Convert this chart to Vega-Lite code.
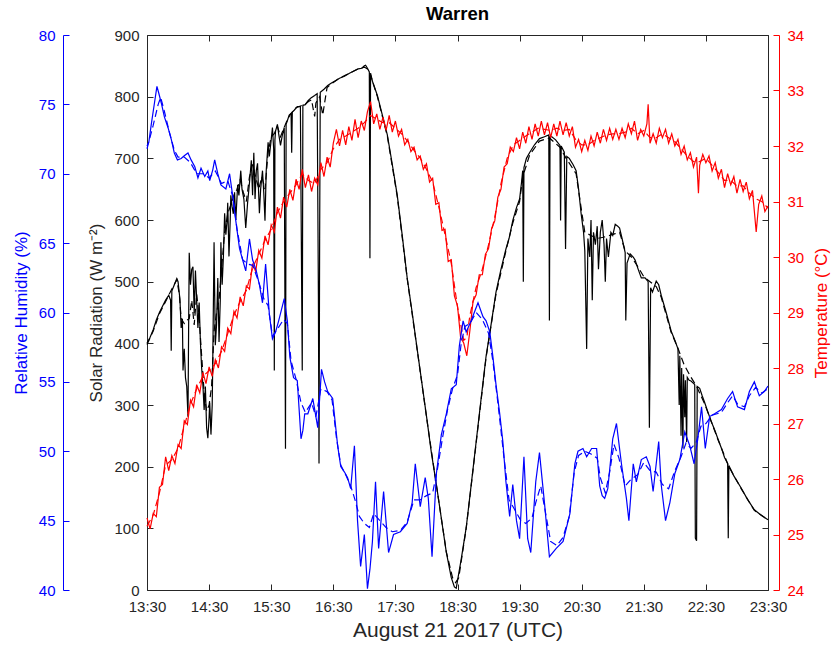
{
"$schema": "https://vega.github.io/schema/vega-lite/v6.json",
"width": 621, "height": 555,
"autosize": {"type": "none"},
"padding": {"left": 147, "top": 35, "right": 63, "bottom": 57},
"background": "white",
"title": {"text": "Warren", "fontSize": 18.5, "fontWeight": "bold", "font": "Liberation Sans", "color": "#000000", "anchor": "middle", "offset": 5},
"config": {"view": {"stroke": null}, "font": "Liberation Sans", "axis": {"labelFont": "Liberation Sans", "titleFont": "Liberation Sans", "grid": false, "labelFlush": false, "labelOverlap": false, "titleFontWeight": "normal", "domainWidth": 1, "tickWidth": 1}},
"datasets": {
"srad": [
{"h":13.5,"v":400},{"h":13.55,"v":410},{"h":13.6,"v":422},{"h":13.65,"v":438},{"h":13.7,"v":450},{"h":13.75,"v":460},{"h":13.8,"v":470},{"h":13.85,"v":478},{"h":13.88,"v":470},{"h":13.89,"v":388},{"h":13.9,"v":485},{"h":13.94,"v":495},{"h":13.98,"v":505},{"h":14.0,"v":500},{"h":14.03,"v":472},{"h":14.05,"v":425},{"h":14.07,"v":440},{"h":14.08,"v":356},{"h":14.1,"v":391},{"h":14.12,"v":344},{"h":14.14,"v":330},{"h":14.16,"v":281},{"h":14.17,"v":420},{"h":14.18,"v":547},{"h":14.2,"v":495},{"h":14.22,"v":520},{"h":14.24,"v":524},{"h":14.26,"v":449},{"h":14.28,"v":518},{"h":14.3,"v":470},{"h":14.32,"v":425},{"h":14.34,"v":466},{"h":14.36,"v":402},{"h":14.38,"v":360},{"h":14.4,"v":333},{"h":14.42,"v":292},{"h":14.44,"v":330},{"h":14.46,"v":263},{"h":14.48,"v":246},{"h":14.5,"v":280},{"h":14.51,"v":304},{"h":14.53,"v":252},{"h":14.55,"v":300},{"h":14.56,"v":379},{"h":14.58,"v":564},{"h":14.6,"v":397},{"h":14.62,"v":430},{"h":14.64,"v":506},{"h":14.66,"v":402},{"h":14.68,"v":470},{"h":14.69,"v":564},{"h":14.71,"v":495},{"h":14.73,"v":540},{"h":14.75,"v":611},{"h":14.77,"v":576},{"h":14.79,"v":600},{"h":14.8,"v":628},{"h":14.82,"v":541},{"h":14.84,"v":600},{"h":14.85,"v":640},{"h":14.87,"v":622},{"h":14.89,"v":610},{"h":14.91,"v":645},{"h":14.93,"v":600},{"h":14.96,"v":657},{"h":14.98,"v":640},{"h":15.01,"v":680},{"h":15.03,"v":650},{"h":15.06,"v":634},{"h":15.09,"v":587},{"h":15.12,"v":628},{"h":15.15,"v":660},{"h":15.18,"v":697},{"h":15.2,"v":640},{"h":15.22,"v":709},{"h":15.24,"v":634},{"h":15.26,"v":680},{"h":15.28,"v":692},{"h":15.31,"v":611},{"h":15.33,"v":650},{"h":15.36,"v":680},{"h":15.38,"v":645},{"h":15.4,"v":599},{"h":15.42,"v":680},{"h":15.45,"v":726},{"h":15.47,"v":703},{"h":15.5,"v":730},{"h":15.52,"v":750},{"h":15.54,"v":715},{"h":15.55,"v":356},{"h":15.56,"v":730},{"h":15.57,"v":744},{"h":15.6,"v":755},{"h":15.62,"v":740},{"h":15.65,"v":721},{"h":15.68,"v":738},{"h":15.71,"v":750},{"h":15.73,"v":229},{"h":15.74,"v":755},{"h":15.76,"v":761},{"h":15.79,"v":770},{"h":15.82,"v":773},{"h":15.83,"v":709},{"h":15.84,"v":775},{"h":15.87,"v":778},{"h":15.92,"v":784},{"h":15.97,"v":784},{"h":16.0,"v":356},{"h":16.01,"v":786},{"h":16.05,"v":787},{"h":16.09,"v":793},{"h":16.14,"v":798},{"h":16.2,"v":802},{"h":16.24,"v":805},{"h":16.26,"v":477},{"h":16.27,"v":205},{"h":16.28,"v":570},{"h":16.29,"v":807},{"h":16.35,"v":812},{"h":16.41,"v":818},{"h":16.47,"v":822},{"h":16.52,"v":825},{"h":16.6,"v":830},{"h":16.68,"v":833},{"h":16.76,"v":838},{"h":16.84,"v":842},{"h":16.9,"v":845},{"h":16.96,"v":846},{"h":17.0,"v":850},{"h":17.02,"v":851},{"h":17.05,"v":846},{"h":17.08,"v":840},{"h":17.09,"v":538},{"h":17.1,"v":838},{"h":17.13,"v":825},{"h":17.21,"v":802},{"h":17.29,"v":770},{"h":17.37,"v":738},{"h":17.45,"v":690},{"h":17.53,"v":640},{"h":17.61,"v":575},{"h":17.69,"v":506},{"h":17.77,"v":450},{"h":17.85,"v":391},{"h":17.93,"v":333},{"h":18.01,"v":275},{"h":18.08,"v":222},{"h":18.16,"v":171},{"h":18.24,"v":116},{"h":18.32,"v":61},{"h":18.4,"v":20},{"h":18.45,"v":5},{"h":18.48,"v":3},{"h":18.5,"v":15},{"h":18.56,"v":50},{"h":18.64,"v":101},{"h":18.72,"v":170},{"h":18.8,"v":240},{"h":18.88,"v":310},{"h":18.96,"v":379},{"h":19.04,"v":430},{"h":19.12,"v":483},{"h":19.2,"v":520},{"h":19.28,"v":553},{"h":19.33,"v":570},{"h":19.39,"v":599},{"h":19.45,"v":620},{"h":19.5,"v":634},{"h":19.53,"v":660},{"h":19.55,"v":680},{"h":19.56,"v":500},{"h":19.57,"v":685},{"h":19.61,"v":700},{"h":19.66,"v":709},{"h":19.74,"v":722},{"h":19.82,"v":732},{"h":19.9,"v":735},{"h":19.97,"v":738},{"h":19.98,"v":437},{"h":19.99,"v":735},{"h":20.02,"v":735},{"h":20.08,"v":730},{"h":20.15,"v":721},{"h":20.16,"v":599},{"h":20.17,"v":720},{"h":20.22,"v":710},{"h":20.24,"v":553},{"h":20.26,"v":703},{"h":20.3,"v":700},{"h":20.36,"v":690},{"h":20.41,"v":680},{"h":20.45,"v":650},{"h":20.49,"v":611},{"h":20.53,"v":580},{"h":20.55,"v":550},{"h":20.58,"v":391},{"h":20.6,"v":570},{"h":20.63,"v":540},{"h":20.65,"v":600},{"h":20.67,"v":470},{"h":20.69,"v":580},{"h":20.72,"v":560},{"h":20.75,"v":590},{"h":20.77,"v":520},{"h":20.8,"v":580},{"h":20.83,"v":600},{"h":20.86,"v":560},{"h":20.88,"v":500},{"h":20.9,"v":570},{"h":20.93,"v":540},{"h":20.97,"v":580},{"h":21.0,"v":575},{"h":21.04,"v":593},{"h":21.08,"v":590},{"h":21.11,"v":587},{"h":21.15,"v":570},{"h":21.2,"v":547},{"h":21.21,"v":437},{"h":21.23,"v":530},{"h":21.28,"v":545},{"h":21.33,"v":540},{"h":21.36,"v":535},{"h":21.41,"v":520},{"h":21.46,"v":506},{"h":21.52,"v":506},{"h":21.57,"v":500},{"h":21.59,"v":263},{"h":21.61,"v":490},{"h":21.64,"v":483},{"h":21.7,"v":501},{"h":21.74,"v":495},{"h":21.78,"v":478},{"h":21.86,"v":450},{"h":21.94,"v":420},{"h":22.0,"v":405},{"h":22.05,"v":391},{"h":22.07,"v":300},{"h":22.08,"v":380},{"h":22.1,"v":250},{"h":22.11,"v":360},{"h":22.13,"v":230},{"h":22.14,"v":350},{"h":22.16,"v":280},{"h":22.17,"v":340},{"h":22.19,"v":240},{"h":22.2,"v":345},{"h":22.23,"v":340},{"h":22.26,"v":339},{"h":22.3,"v":335},{"h":22.32,"v":333},{"h":22.33,"v":84},{"h":22.35,"v":80},{"h":22.36,"v":330},{"h":22.4,"v":327},{"h":22.44,"v":315},{"h":22.48,"v":304},{"h":22.52,"v":292},{"h":22.58,"v":275},{"h":22.64,"v":260},{"h":22.69,"v":246},{"h":22.75,"v":230},{"h":22.8,"v":215},{"h":22.85,"v":205},{"h":22.86,"v":84},{"h":22.87,"v":202},{"h":22.95,"v":185},{"h":23.07,"v":165},{"h":23.17,"v":147},{"h":23.28,"v":130},{"h":23.38,"v":122},{"h":23.45,"v":117},{"h":23.5,"v":114}
],
"srad2": [
{"h":13.5,"v":398},{"h":13.6,"v":420},{"h":13.7,"v":448},{"h":13.8,"v":468},{"h":13.9,"v":488},{"h":13.98,"v":503},{"h":14.02,"v":480},{"h":14.05,"v":440},{"h":14.1,"v":432},{"h":14.15,"v":438},{"h":14.18,"v":440},{"h":14.22,"v":470},{"h":14.26,"v":430},{"h":14.3,"v":480},{"h":14.34,"v":440},{"h":14.38,"v":380},{"h":14.42,"v":320},{"h":14.46,"v":290},{"h":14.5,"v":300},{"h":14.54,"v":330},{"h":14.58,"v":420},{"h":14.62,"v":450},{"h":14.66,"v":470},{"h":14.7,"v":520},{"h":14.75,"v":580},{"h":14.8,"v":610},{"h":14.85,"v":625},{"h":14.9,"v":640},{"h":14.95,"v":650},{"h":15.0,"v":665},{"h":15.05,"v":645},{"h":15.1,"v":630},{"h":15.15,"v":670},{"h":15.2,"v":690},{"h":15.25,"v":670},{"h":15.3,"v":650},{"h":15.35,"v":670},{"h":15.4,"v":650},{"h":15.45,"v":710},{"h":15.5,"v":735},{"h":15.55,"v":740},{"h":15.6,"v":752},{"h":15.65,"v":735},{"h":15.7,"v":748},{"h":15.75,"v":760},{"h":15.8,"v":770},{"h":15.85,"v":776},{"h":15.9,"v":782},{"h":15.95,"v":784},{"h":16.0,"v":786},{"h":16.05,"v":788},{"h":16.1,"v":792},{"h":16.15,"v":795},{"h":16.18,"v":778},{"h":16.2,"v":768},{"h":16.22,"v":790},{"h":16.28,"v":800},{"h":16.33,"v":770},{"h":16.36,"v":790},{"h":16.4,"v":815},{"h":16.5,"v":823},{"h":16.6,"v":830},{"h":16.7,"v":835},{"h":16.8,"v":840},{"h":16.9,"v":845},{"h":17.0,"v":848},{"h":17.05,"v":845},{"h":17.1,"v":835},{"h":17.21,"v":800},{"h":17.37,"v":736},{"h":17.53,"v":638},{"h":17.69,"v":505},{"h":17.85,"v":390},{"h":18.01,"v":274},{"h":18.16,"v":170},{"h":18.32,"v":62},{"h":18.42,"v":20},{"h":18.47,"v":12},{"h":18.52,"v":20},{"h":18.64,"v":100},{"h":18.8,"v":238},{"h":18.96,"v":377},{"h":19.12,"v":480},{"h":19.28,"v":550},{"h":19.39,"v":595},{"h":19.5,"v":630},{"h":19.55,"v":670},{"h":19.66,"v":705},{"h":19.82,"v":728},{"h":19.98,"v":733},{"h":20.15,"v":718},{"h":20.25,"v":700},{"h":20.41,"v":675},{"h":20.49,"v":620},{"h":20.55,"v":580},{"h":20.65,"v":575},{"h":20.75,"v":570},{"h":20.85,"v":572},{"h":20.95,"v":575},{"h":21.04,"v":578},{"h":21.11,"v":580},{"h":21.2,"v":550},{"h":21.3,"v":540},{"h":21.4,"v":525},{"h":21.5,"v":508},{"h":21.6,"v":500},{"h":21.7,"v":492},{"h":21.78,"v":475},{"h":21.94,"v":418},{"h":22.05,"v":392},{"h":22.15,"v":365},{"h":22.26,"v":345},{"h":22.35,"v":330},{"h":22.48,"v":302},{"h":22.69,"v":245},{"h":22.87,"v":200},{"h":23.07,"v":164},{"h":23.28,"v":129},{"h":23.5,"v":114}
],
"temp": [
{"h":13.5,"v":25.3},{"h":13.55,"v":25.1},{"h":13.6,"v":25.38},{"h":13.65,"v":25.32},{"h":13.7,"v":25.85},{"h":13.75,"v":25.9},{"h":13.8,"v":26.4},{"h":13.85,"v":26.15},{"h":13.9,"v":26.42},{"h":13.95,"v":26.28},{"h":14.0,"v":26.62},{"h":14.05,"v":26.55},{"h":14.1,"v":27.05},{"h":14.15,"v":26.98},{"h":14.2,"v":27.42},{"h":14.25,"v":27.3},{"h":14.3,"v":27.7},{"h":14.35,"v":27.55},{"h":14.4,"v":27.92},{"h":14.45,"v":27.72},{"h":14.5,"v":28.02},{"h":14.55,"v":27.85},{"h":14.6,"v":28.15},{"h":14.65,"v":28.0},{"h":14.7,"v":28.38},{"h":14.75,"v":28.3},{"h":14.8,"v":28.72},{"h":14.85,"v":28.62},{"h":14.9,"v":29.02},{"h":14.95,"v":28.9},{"h":15.0,"v":29.28},{"h":15.05,"v":29.12},{"h":15.1,"v":29.48},{"h":15.15,"v":29.42},{"h":15.2,"v":29.88},{"h":15.25,"v":29.74},{"h":15.3,"v":30.12},{"h":15.35,"v":29.98},{"h":15.4,"v":30.38},{"h":15.45,"v":30.22},{"h":15.5,"v":30.58},{"h":15.55,"v":30.45},{"h":15.6,"v":30.9},{"h":15.65,"v":30.7},{"h":15.7,"v":31.08},{"h":15.75,"v":30.9},{"h":15.8,"v":31.22},{"h":15.85,"v":31.02},{"h":15.9,"v":31.4},{"h":15.95,"v":31.22},{"h":16.0,"v":31.58},{"h":16.05,"v":31.25},{"h":16.1,"v":31.48},{"h":16.15,"v":31.18},{"h":16.2,"v":31.42},{"h":16.25,"v":31.3},{"h":16.3,"v":31.7},{"h":16.35,"v":31.45},{"h":16.4,"v":31.8},{"h":16.45,"v":31.62},{"h":16.5,"v":32.05},{"h":16.55,"v":32.3},{"h":16.6,"v":32.0},{"h":16.65,"v":32.28},{"h":16.7,"v":32.02},{"h":16.75,"v":32.35},{"h":16.8,"v":32.1},{"h":16.85,"v":32.48},{"h":16.9,"v":32.15},{"h":16.95,"v":32.45},{"h":17.0,"v":32.28},{"h":17.05,"v":32.62},{"h":17.1,"v":32.8},{"h":17.15,"v":32.4},{"h":17.2,"v":32.58},{"h":17.25,"v":32.3},{"h":17.3,"v":32.52},{"h":17.35,"v":32.28},{"h":17.4,"v":32.55},{"h":17.45,"v":32.25},{"h":17.5,"v":32.45},{"h":17.55,"v":32.18},{"h":17.6,"v":32.3},{"h":17.65,"v":32.02},{"h":17.7,"v":32.12},{"h":17.75,"v":31.9},{"h":17.8,"v":31.98},{"h":17.85,"v":31.75},{"h":17.9,"v":31.82},{"h":17.95,"v":31.58},{"h":18.0,"v":31.68},{"h":18.05,"v":31.35},{"h":18.1,"v":31.42},{"h":18.15,"v":30.95},{"h":18.2,"v":30.98},{"h":18.25,"v":30.48},{"h":18.3,"v":30.5},{"h":18.35,"v":29.92},{"h":18.4,"v":29.95},{"h":18.45,"v":29.3},{"h":18.5,"v":29.12},{"h":18.55,"v":28.55},{"h":18.6,"v":28.45},{"h":18.65,"v":28.22},{"h":18.7,"v":28.68},{"h":18.75,"v":29.2},{"h":18.8,"v":29.32},{"h":18.85,"v":29.68},{"h":18.9,"v":29.68},{"h":18.95,"v":30.05},{"h":19.0,"v":30.15},{"h":19.05,"v":30.52},{"h":19.1,"v":30.65},{"h":19.15,"v":31.08},{"h":19.2,"v":31.22},{"h":19.25,"v":31.62},{"h":19.3,"v":31.68},{"h":19.35,"v":31.98},{"h":19.4,"v":31.9},{"h":19.45,"v":32.15},{"h":19.5,"v":31.95},{"h":19.55,"v":32.25},{"h":19.6,"v":32.05},{"h":19.65,"v":32.35},{"h":19.7,"v":32.12},{"h":19.75,"v":32.4},{"h":19.8,"v":32.18},{"h":19.85,"v":32.45},{"h":19.9,"v":32.2},{"h":19.95,"v":32.42},{"h":20.0,"v":32.15},{"h":20.05,"v":32.4},{"h":20.1,"v":32.18},{"h":20.15,"v":32.45},{"h":20.2,"v":32.2},{"h":20.25,"v":32.42},{"h":20.3,"v":32.18},{"h":20.35,"v":32.35},{"h":20.4,"v":31.98},{"h":20.45,"v":32.12},{"h":20.5,"v":31.9},{"h":20.55,"v":32.1},{"h":20.6,"v":31.92},{"h":20.65,"v":32.18},{"h":20.7,"v":32.0},{"h":20.75,"v":32.25},{"h":20.8,"v":32.05},{"h":20.85,"v":32.3},{"h":20.9,"v":32.1},{"h":20.95,"v":32.32},{"h":21.0,"v":32.12},{"h":21.05,"v":32.3},{"h":21.1,"v":32.12},{"h":21.15,"v":32.32},{"h":21.2,"v":32.15},{"h":21.25,"v":32.4},{"h":21.3,"v":32.22},{"h":21.35,"v":32.45},{"h":21.4,"v":32.1},{"h":21.45,"v":32.3},{"h":21.5,"v":32.18},{"h":21.55,"v":32.4},{"h":21.57,"v":32.75},{"h":21.6,"v":32.05},{"h":21.65,"v":32.22},{"h":21.7,"v":32.05},{"h":21.75,"v":32.32},{"h":21.8,"v":32.15},{"h":21.85,"v":32.3},{"h":21.9,"v":32.05},{"h":21.95,"v":32.22},{"h":22.0,"v":32.0},{"h":22.05,"v":32.12},{"h":22.1,"v":31.85},{"h":22.15,"v":32.0},{"h":22.2,"v":31.75},{"h":22.25,"v":31.88},{"h":22.3,"v":31.62},{"h":22.35,"v":31.8},{"h":22.38,"v":31.15},{"h":22.4,"v":31.65},{"h":22.45,"v":31.85},{"h":22.5,"v":31.7},{"h":22.55,"v":31.82},{"h":22.6,"v":31.55},{"h":22.65,"v":31.7},{"h":22.7,"v":31.42},{"h":22.75,"v":31.58},{"h":22.8,"v":31.25},{"h":22.85,"v":31.5},{"h":22.9,"v":31.3},{"h":22.95,"v":31.45},{"h":23.0,"v":31.15},{"h":23.05,"v":31.4},{"h":23.1,"v":31.18},{"h":23.15,"v":31.35},{"h":23.2,"v":31.05},{"h":23.25,"v":31.2},{"h":23.31,"v":30.45},{"h":23.35,"v":30.95},{"h":23.4,"v":31.1},{"h":23.45,"v":30.82},{"h":23.5,"v":30.92}
],
"temp2": [
{"h":13.5,"v":25.15},{"h":13.6,"v":25.35},{"h":13.7,"v":25.75},{"h":13.8,"v":26.25},{"h":13.9,"v":26.35},{"h":14.0,"v":26.55},{"h":14.1,"v":26.95},{"h":14.2,"v":27.35},{"h":14.3,"v":27.62},{"h":14.4,"v":27.85},{"h":14.5,"v":27.95},{"h":14.6,"v":28.08},{"h":14.7,"v":28.3},{"h":14.8,"v":28.62},{"h":14.9,"v":28.95},{"h":15.0,"v":29.2},{"h":15.1,"v":29.4},{"h":15.2,"v":29.8},{"h":15.3,"v":30.05},{"h":15.4,"v":30.3},{"h":15.5,"v":30.5},{"h":15.6,"v":30.8},{"h":15.7,"v":31.0},{"h":15.8,"v":31.15},{"h":15.9,"v":31.3},{"h":16.0,"v":31.5},{"h":16.1,"v":31.38},{"h":16.2,"v":31.32},{"h":16.3,"v":31.58},{"h":16.4,"v":31.7},{"h":16.5,"v":31.95},{"h":16.6,"v":32.12},{"h":16.7,"v":32.18},{"h":16.8,"v":32.25},{"h":16.9,"v":32.32},{"h":17.0,"v":32.42},{"h":17.1,"v":32.55},{"h":17.2,"v":32.48},{"h":17.3,"v":32.42},{"h":17.4,"v":32.42},{"h":17.5,"v":32.32},{"h":17.6,"v":32.22},{"h":17.7,"v":32.08},{"h":17.8,"v":31.92},{"h":17.9,"v":31.78},{"h":18.0,"v":31.58},{"h":18.1,"v":31.35},{"h":18.2,"v":30.9},{"h":18.3,"v":30.4},{"h":18.4,"v":29.88},{"h":18.5,"v":29.1},{"h":18.55,"v":28.8},{"h":18.6,"v":28.5},{"h":18.65,"v":28.55},{"h":18.7,"v":28.95},{"h":18.8,"v":29.45},{"h":18.9,"v":29.78},{"h":19.0,"v":30.22},{"h":19.1,"v":30.72},{"h":19.2,"v":31.32},{"h":19.3,"v":31.78},{"h":19.4,"v":32.02},{"h":19.5,"v":32.1},{"h":19.6,"v":32.18},{"h":19.7,"v":32.25},{"h":19.8,"v":32.32},{"h":19.9,"v":32.3},{"h":20.0,"v":32.28},{"h":20.1,"v":32.32},{"h":20.2,"v":32.28},{"h":20.3,"v":32.3},{"h":20.4,"v":32.12},{"h":20.5,"v":32.02},{"h":20.6,"v":32.02},{"h":20.7,"v":32.1},{"h":20.8,"v":32.15},{"h":20.9,"v":32.2},{"h":21.0,"v":32.22},{"h":21.1,"v":32.22},{"h":21.2,"v":32.25},{"h":21.3,"v":32.32},{"h":21.4,"v":32.22},{"h":21.5,"v":32.28},{"h":21.6,"v":32.15},{"h":21.7,"v":32.15},{"h":21.8,"v":32.22},{"h":21.9,"v":32.15},{"h":22.0,"v":32.08},{"h":22.1,"v":31.95},{"h":22.2,"v":31.82},{"h":22.3,"v":31.72},{"h":22.4,"v":31.72},{"h":22.5,"v":31.78},{"h":22.6,"v":31.65},{"h":22.7,"v":31.52},{"h":22.8,"v":31.38},{"h":22.9,"v":31.38},{"h":23.0,"v":31.28},{"h":23.1,"v":31.28},{"h":23.2,"v":31.15},{"h":23.3,"v":31.05},{"h":23.4,"v":31.0},{"h":23.5,"v":30.88}
],
"rh": [
{"h":13.5,"v":72.0},{"h":13.53,"v":72.3},{"h":13.57,"v":73.6},{"h":13.62,"v":75.1},{"h":13.66,"v":76.3},{"h":13.69,"v":75.8},{"h":13.73,"v":75.1},{"h":13.78,"v":74.1},{"h":13.84,"v":73.3},{"h":13.89,"v":72.5},{"h":13.94,"v":71.5},{"h":13.99,"v":71.0},{"h":14.05,"v":71.1},{"h":14.1,"v":71.3},{"h":14.16,"v":71.5},{"h":14.21,"v":71.0},{"h":14.27,"v":70.5},{"h":14.32,"v":69.7},{"h":14.37,"v":70.4},{"h":14.43,"v":69.8},{"h":14.48,"v":70.2},{"h":14.51,"v":69.5},{"h":14.56,"v":70.3},{"h":14.59,"v":71.0},{"h":14.64,"v":70.0},{"h":14.69,"v":69.2},{"h":14.77,"v":68.9},{"h":14.83,"v":70.0},{"h":14.88,"v":68.4},{"h":14.93,"v":66.6},{"h":14.99,"v":64.6},{"h":15.04,"v":63.8},{"h":15.09,"v":63.0},{"h":15.15,"v":65.3},{"h":15.2,"v":63.8},{"h":15.26,"v":63.0},{"h":15.31,"v":62.0},{"h":15.36,"v":60.7},{"h":15.41,"v":63.5},{"h":15.47,"v":59.9},{"h":15.52,"v":58.1},{"h":15.57,"v":58.6},{"h":15.62,"v":59.4},{"h":15.71,"v":61.0},{"h":15.76,"v":59.4},{"h":15.8,"v":56.8},{"h":15.86,"v":55.3},{"h":15.92,"v":55.1},{"h":15.98,"v":50.9},{"h":16.01,"v":51.5},{"h":16.04,"v":52.7},{"h":16.09,"v":52.7},{"h":16.17,"v":53.8},{"h":16.25,"v":51.7},{"h":16.31,"v":55.9},{"h":16.36,"v":55.0},{"h":16.41,"v":54.3},{"h":16.49,"v":53.8},{"h":16.57,"v":50.4},{"h":16.62,"v":48.9},{"h":16.68,"v":48.5},{"h":16.73,"v":48.1},{"h":16.78,"v":47.3},{"h":16.84,"v":50.4},{"h":16.89,"v":45.0},{"h":16.94,"v":41.7},{"h":17.0,"v":44.0},{"h":17.05,"v":40.1},{"h":17.09,"v":41.5},{"h":17.13,"v":43.5},{"h":17.18,"v":47.8},{"h":17.23,"v":43.0},{"h":17.31,"v":47.1},{"h":17.39,"v":42.7},{"h":17.47,"v":44.0},{"h":17.58,"v":44.2},{"h":17.69,"v":44.8},{"h":17.77,"v":46.3},{"h":17.82,"v":49.1},{"h":17.9,"v":46.0},{"h":17.98,"v":48.1},{"h":18.03,"v":46.6},{"h":18.09,"v":42.4},{"h":18.16,"v":48.4},{"h":18.24,"v":51.2},{"h":18.32,"v":52.7},{"h":18.4,"v":54.5},{"h":18.48,"v":54.8},{"h":18.53,"v":57.6},{"h":18.59,"v":59.4},{"h":18.64,"v":58.6},{"h":18.72,"v":59.4},{"h":18.83,"v":60.7},{"h":18.91,"v":59.7},{"h":18.96,"v":59.4},{"h":19.02,"v":58.6},{"h":19.07,"v":56.8},{"h":19.12,"v":54.8},{"h":19.18,"v":52.7},{"h":19.23,"v":50.7},{"h":19.28,"v":47.8},{"h":19.34,"v":45.3},{"h":19.39,"v":47.6},{"h":19.45,"v":45.0},{"h":19.5,"v":43.7},{"h":19.57,"v":49.6},{"h":19.63,"v":43.7},{"h":19.68,"v":42.7},{"h":19.76,"v":47.8},{"h":19.82,"v":49.9},{"h":19.9,"v":46.3},{"h":19.98,"v":42.4},{"h":20.09,"v":43.0},{"h":20.2,"v":43.5},{"h":20.31,"v":45.5},{"h":20.39,"v":49.1},{"h":20.44,"v":50.0},{"h":20.52,"v":50.2},{"h":20.58,"v":49.6},{"h":20.66,"v":50.2},{"h":20.74,"v":50.2},{"h":20.79,"v":47.5},{"h":20.83,"v":46.8},{"h":20.87,"v":46.6},{"h":20.92,"v":47.3},{"h":21.0,"v":50.9},{"h":21.06,"v":52.0},{"h":21.14,"v":49.1},{"h":21.22,"v":46.6},{"h":21.26,"v":45.0},{"h":21.33,"v":49.1},{"h":21.38,"v":47.8},{"h":21.46,"v":49.4},{"h":21.54,"v":49.6},{"h":21.6,"v":48.9},{"h":21.65,"v":47.1},{"h":21.74,"v":50.7},{"h":21.78,"v":47.6},{"h":21.85,"v":45.0},{"h":21.92,"v":46.3},{"h":22.0,"v":48.4},{"h":22.08,"v":49.4},{"h":22.16,"v":51.4},{"h":22.24,"v":50.4},{"h":22.31,"v":49.1},{"h":22.37,"v":50.9},{"h":22.43,"v":53.2},{"h":22.49,"v":50.2},{"h":22.56,"v":52.5},{"h":22.64,"v":52.7},{"h":22.75,"v":53.0},{"h":22.85,"v":53.8},{"h":22.93,"v":54.3},{"h":23.01,"v":53.2},{"h":23.12,"v":53.0},{"h":23.2,"v":54.3},{"h":23.28,"v":55.0},{"h":23.36,"v":54.0},{"h":23.44,"v":54.3},{"h":23.5,"v":54.7}
],
"rh2": [
{"h":13.5,"v":71.8},{"h":13.6,"v":73.5},{"h":13.68,"v":75.0},{"h":13.72,"v":75.5},{"h":13.78,"v":74.5},{"h":13.86,"v":73.0},{"h":13.94,"v":71.7},{"h":14.0,"v":71.2},{"h":14.1,"v":71.2},{"h":14.2,"v":70.8},{"h":14.3,"v":70.0},{"h":14.4,"v":70.0},{"h":14.5,"v":69.7},{"h":14.6,"v":70.2},{"h":14.7,"v":69.3},{"h":14.8,"v":69.5},{"h":14.88,"v":68.4},{"h":14.95,"v":66.0},{"h":15.04,"v":63.8},{"h":15.12,"v":63.5},{"h":15.2,"v":63.4},{"h":15.3,"v":62.2},{"h":15.38,"v":61.0},{"h":15.45,"v":60.5},{"h":15.52,"v":58.3},{"h":15.6,"v":58.8},{"h":15.7,"v":59.5},{"h":15.76,"v":59.2},{"h":15.82,"v":56.5},{"h":15.9,"v":55.2},{"h":15.98,"v":53.5},{"h":16.05,"v":52.8},{"h":16.15,"v":53.5},{"h":16.22,"v":52.5},{"h":16.3,"v":54.5},{"h":16.4,"v":54.3},{"h":16.48,"v":53.7},{"h":16.55,"v":51.0},{"h":16.62,"v":49.0},{"h":16.7,"v":48.3},{"h":16.78,"v":47.5},{"h":16.85,"v":46.5},{"h":16.92,"v":45.3},{"h":17.0,"v":44.8},{"h":17.08,"v":44.5},{"h":17.15,"v":45.5},{"h":17.25,"v":45.0},{"h":17.35,"v":44.5},{"h":17.45,"v":44.2},{"h":17.58,"v":44.3},{"h":17.69,"v":44.9},{"h":17.8,"v":46.5},{"h":17.9,"v":46.5},{"h":18.0,"v":46.8},{"h":18.1,"v":47.0},{"h":18.18,"v":48.8},{"h":18.26,"v":51.0},{"h":18.34,"v":53.0},{"h":18.42,"v":54.5},{"h":18.5,"v":55.5},{"h":18.56,"v":57.8},{"h":18.62,"v":59.0},{"h":18.7,"v":59.2},{"h":18.8,"v":60.0},{"h":18.9,"v":59.5},{"h":19.0,"v":58.5},{"h":19.07,"v":56.5},{"h":19.15,"v":53.5},{"h":19.25,"v":49.5},{"h":19.33,"v":46.5},{"h":19.42,"v":45.8},{"h":19.52,"v":45.0},{"h":19.6,"v":44.8},{"h":19.7,"v":45.2},{"h":19.76,"v":46.3},{"h":19.84,"v":47.5},{"h":19.92,"v":45.5},{"h":20.0,"v":43.5},{"h":20.1,"v":43.2},{"h":20.2,"v":43.8},{"h":20.3,"v":45.3},{"h":20.38,"v":48.5},{"h":20.45,"v":49.7},{"h":20.55,"v":50.0},{"h":20.65,"v":49.8},{"h":20.75,"v":49.5},{"h":20.8,"v":48.1},{"h":20.88,"v":47.0},{"h":20.95,"v":48.5},{"h":21.02,"v":50.5},{"h":21.1,"v":49.5},{"h":21.2,"v":47.5},{"h":21.3,"v":48.0},{"h":21.4,"v":48.3},{"h":21.5,"v":49.2},{"h":21.6,"v":48.6},{"h":21.7,"v":48.5},{"h":21.8,"v":47.6},{"h":21.9,"v":47.3},{"h":22.0,"v":48.6},{"h":22.1,"v":49.6},{"h":22.18,"v":50.6},{"h":22.26,"v":50.2},{"h":22.34,"v":50.6},{"h":22.42,"v":51.8},{"h":22.5,"v":52.0},{"h":22.6,"v":52.6},{"h":22.75,"v":52.8},{"h":22.85,"v":53.5},{"h":22.93,"v":54.0},{"h":23.01,"v":53.4},{"h":23.12,"v":53.2},{"h":23.2,"v":54.0},{"h":23.3,"v":54.6},{"h":23.4,"v":54.2},{"h":23.5,"v":54.5}
]
},
"layer": [
{"data": {"name": "srad2"},
 "mark": {"type": "line", "color": "#000000", "strokeWidth": 1.2, "strokeDash": [7, 4]},
 "encoding": {
  "x": {"field": "h", "type": "quantitative", "scale": {"domain": [13.5, 23.5], "nice": false, "zero": false},
        "axis": {"orient": "top", "values": [13.5,14.5,15.5,16.5,17.5,18.5,19.5,20.5,21.5,22.5,23.5], "labels": false, "title": null, "tickSize": -6, "domainColor": "#262626", "tickColor": "#262626"}},
  "y": {"field": "v", "type": "quantitative", "scale": {"domain": [0, 900], "nice": false, "zero": false},
        "axis": {"orient": "right", "values": [0,100,200,300,400,500,600,700,800,900], "labels": false, "title": null, "tickSize": -6, "domainColor": "#262626", "tickColor": "#262626"}}
 }},
{"data": {"name": "srad"},
 "mark": {"type": "line", "color": "#000000", "strokeWidth": 1.2},
 "encoding": {
  "x": {"field": "h", "type": "quantitative", "scale": {"domain": [13.5, 23.5], "nice": false, "zero": false},
        "axis": {"orient": "bottom", "values": [13.5,14.5,15.5,16.5,17.5,18.5,19.5,20.5,21.5,22.5,23.5], "labelExpr": "floor(datum.value) + ':30'", "tickSize": -6, "labelPadding": 15, "labelFontSize": 15, "labelColor": "#262626", "domainColor": "#262626", "tickColor": "#262626", "title": "August 21 2017 (UTC)", "titleFontSize": 21, "titleColor": "#262626", "titlePadding": 5}},
  "y": {"field": "v", "type": "quantitative", "scale": {"domain": [0, 900], "nice": false, "zero": false},
        "axis": {"orient": "left", "values": [0,100,200,300,400,500,600,700,800,900], "tickSize": -6, "labelPadding": 14, "labelFontSize": 15, "labelColor": "#262626", "domainColor": "#262626", "tickColor": "#262626", "title": "Solar Radiation (W m⁻²)", "titleFontSize": 17, "titleColor": "#262626", "titlePadding": 8}}
 }},
{"data": {"name": "temp2"},
 "mark": {"type": "line", "color": "#FF0000", "strokeWidth": 1.2, "strokeDash": [7, 4]},
 "encoding": {
  "x": {"field": "h", "type": "quantitative", "scale": {"domain": [13.5, 23.5], "nice": false, "zero": false}, "axis": null},
  "y": {"field": "v", "type": "quantitative", "scale": {"domain": [24, 34], "nice": false, "zero": false}, "axis": null}
 }},
{"data": {"name": "temp"},
 "mark": {"type": "line", "color": "#FF0000", "strokeWidth": 1.2},
 "encoding": {
  "x": {"field": "h", "type": "quantitative", "scale": {"domain": [13.5, 23.5], "nice": false, "zero": false}, "axis": null},
  "y": {"field": "v", "type": "quantitative", "scale": {"domain": [24, 34], "nice": false, "zero": false},
        "axis": {"orient": "right", "offset": 11, "values": [24,25,26,27,28,29,30,31,32,33,34], "tickSize": -6, "labelPadding": 14, "labelFontSize": 15, "labelColor": "#FF0000", "domainColor": "#FF0000", "tickColor": "#FF0000", "title": "Temperature (°C)", "titleFontSize": 17, "titleColor": "#FF0000", "titlePadding": 27, "titleAngle": 270}}
 }},
{"data": {"name": "rh2"},
 "mark": {"type": "line", "color": "#0000FF", "strokeWidth": 1.2, "strokeDash": [7, 4]},
 "encoding": {
  "x": {"field": "h", "type": "quantitative", "scale": {"domain": [13.5, 23.5], "nice": false, "zero": false}, "axis": null},
  "y": {"field": "v", "type": "quantitative", "scale": {"domain": [40, 80], "nice": false, "zero": false}, "axis": null}
 }},
{"data": {"name": "rh"},
 "mark": {"type": "line", "color": "#0000FF", "strokeWidth": 1.2},
 "encoding": {
  "x": {"field": "h", "type": "quantitative", "scale": {"domain": [13.5, 23.5], "nice": false, "zero": false}, "axis": null},
  "y": {"field": "v", "type": "quantitative", "scale": {"domain": [40, 80], "nice": false, "zero": false},
        "axis": {"orient": "left", "offset": 84, "values": [40,45,50,55,60,65,70,75,80], "tickSize": -6, "labelPadding": 14, "labelFontSize": 15, "labelColor": "#0000FF", "domainColor": "#0000FF", "tickColor": "#0000FF", "title": "Relative Humidity (%)", "titleFontSize": 17, "titleColor": "#0000FF", "titlePadding": 8}}
 }}
],
"resolve": {"scale": {"y": "independent"}, "axis": {"y": "independent", "x": "independent"}}
}
